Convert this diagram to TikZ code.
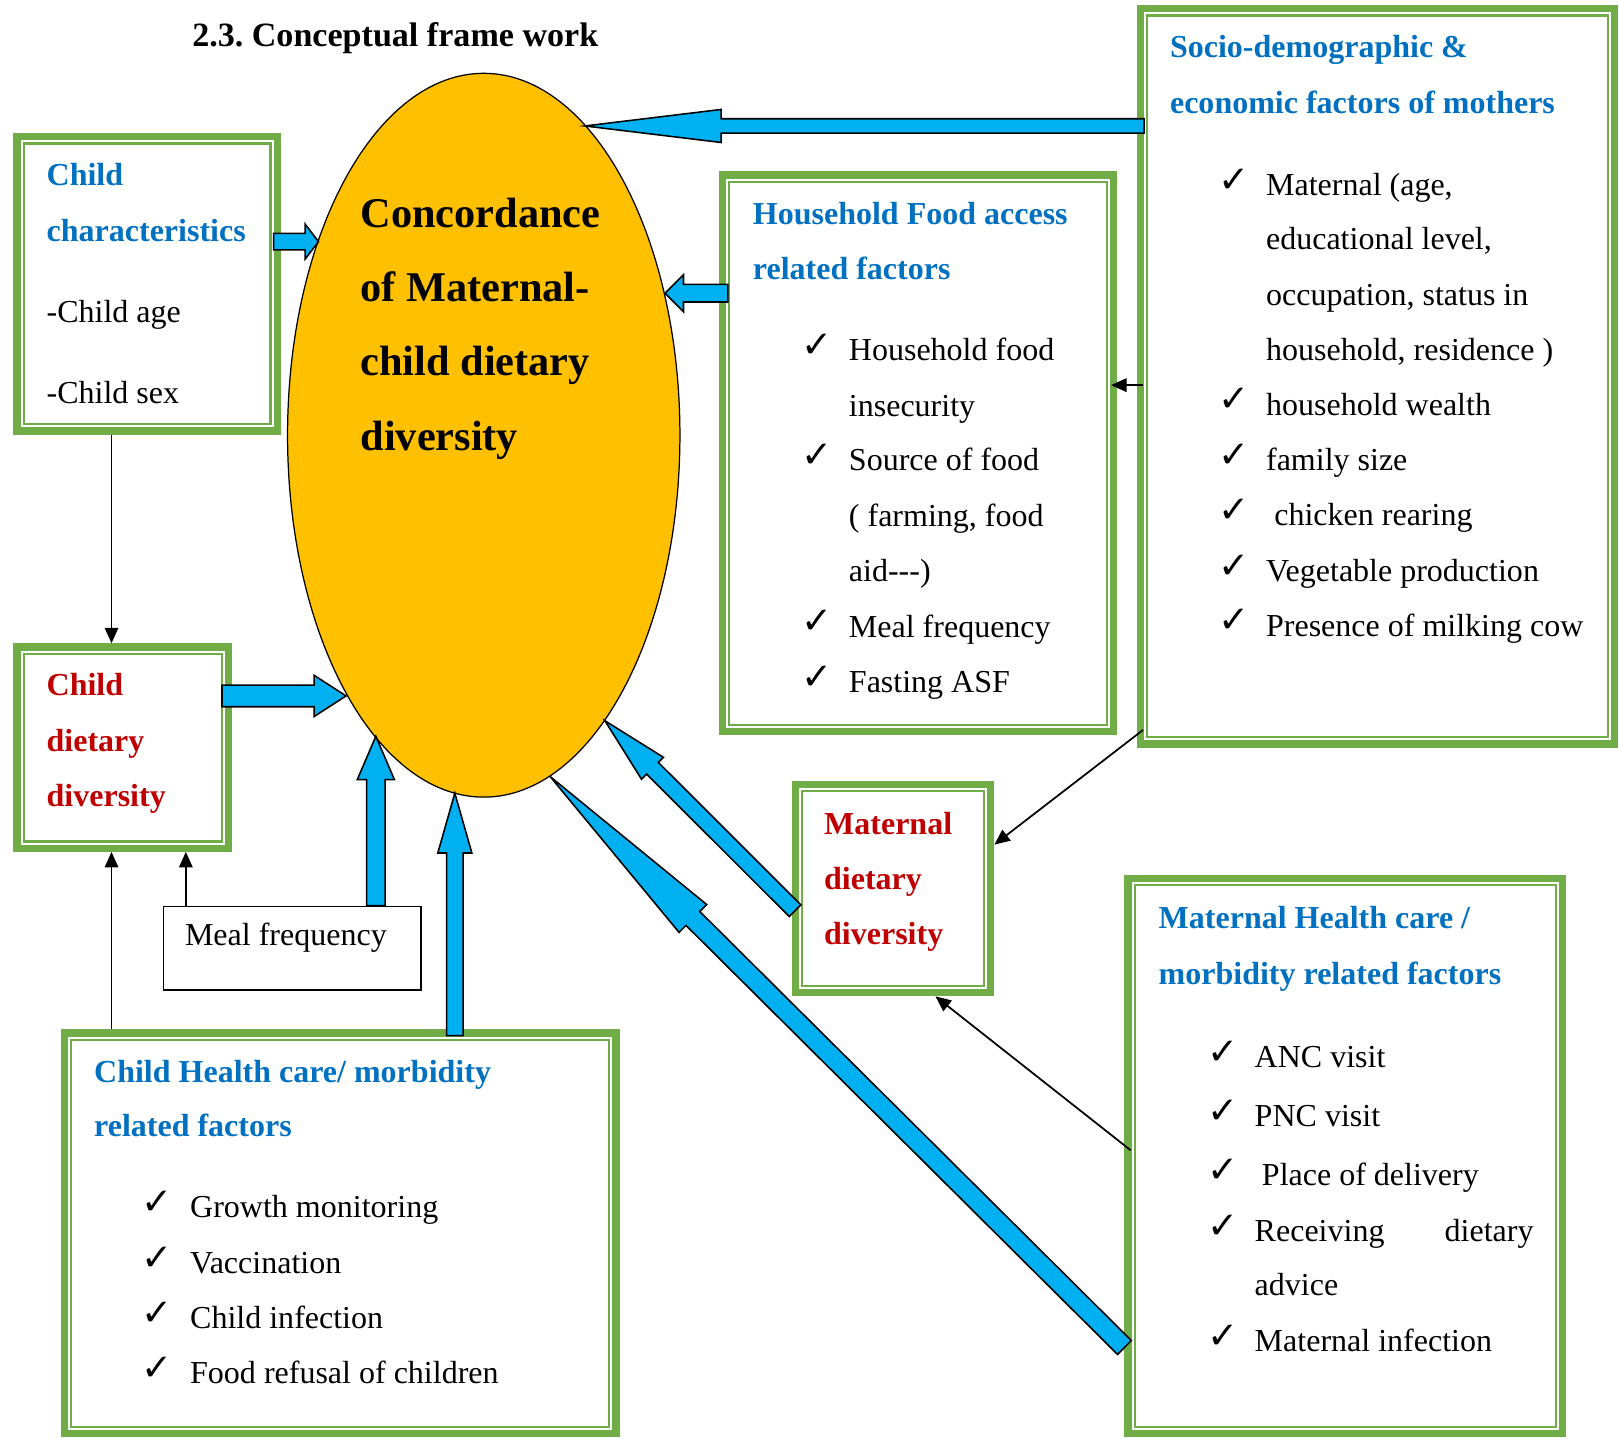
\documentclass[tikz,border=0pt]{standalone}
\usepackage{amssymb}
\usepackage{xcolor}
\usepackage{fontspec}
\setmainfont{Liberation Serif}
\newfontfamily\symfont{DejaVu Sans}
\usepackage{tikz}
\usetikzlibrary{calc,arrows.meta,shapes.geometric}

\definecolor{boxgreen}{RGB}{112,173,71}
\definecolor{headblue}{RGB}{0,112,192}
\definecolor{headred}{RGB}{192,0,0}
\definecolor{arrowblue}{RGB}{0,176,240}
\definecolor{ovalgold}{RGB}{255,192,0}

% block arrow: start, tip, shaft half width, head half width, head length
\newcommand{\fatarrow}[5]{%
  \coordinate (fab) at ($(#2)!#5!(#1)$);
  \draw[fat] ($(#1)!#3!90:(#2)$) -- ($(fab)!#3!-90:(#1)$) -- ($(fab)!#4!-90:(#1)$) -- (#2)
    -- ($(fab)!#4!90:(#1)$) -- ($(fab)!#3!90:(#1)$) -- ($(#1)!#3!-90:(#2)$) -- cycle;}

\begin{document}
\frenchspacing
\begin{tikzpicture}[x=1pt, y=-1pt,
% common options for the green framed boxes:
greenbox/.style = {draw=boxgreen, line width=7pt, fill=white, anchor=north west, inner sep=0pt},
% thin inner line of the frames:
innerline/.style = {draw=boxgreen, line width=2pt},
% common options for the text lines:
txt/.style = {anchor=base west, inner sep=0pt, font=\fontsize{31}{37}\selectfont},
head/.style = {txt, font=\fontsize{31}{37}\selectfont\bfseries, text=headblue},
redhead/.style = {head, text=headred},
chk/.style = {anchor=base west, inner sep=0pt, font=\fontsize{36}{40}\selectfont\symfont},
ovaltxt/.style = {anchor=base west, inner sep=0pt, font=\fontsize{41}{48}\selectfont\bfseries},
% arrows:
fat/.style = {draw=black, line width=1.5pt, fill=arrowblue, line join=miter},
thinarrow/.style = {draw=black, line width=1.7pt, -{Triangle[length=15pt,width=13pt]}}]
\useasboundingbox (0,0) rectangle (1568,1392);

\node[anchor=base west, inner sep=0pt, font=\fontsize{33}{40}\selectfont\bfseries] (title) at (186,45) {2.3. Conceptual frame work};

% central oval
\node[ellipse, draw, fill=ovalgold, line width=1.2pt, minimum width=380pt, minimum height=701pt, inner sep=0pt] (oval) at (468.5,421.5) {};

% boxes
\node[greenbox, minimum width=252pt, minimum height=285pt] (chr) at (13,129) {};
\node[greenbox, minimum width=205pt, minimum height=195pt] (cdd) at (13,623) {};
\node[greenbox, minimum width=379pt, minimum height=539pt] (hfa) at (696,166) {};
\node[greenbox, minimum width=459pt, minimum height=712pt] (sdm) at (1101,5) {};
\node[greenbox, minimum width=189pt, minimum height=202pt] (mdd) at (767,756) {};
\node[greenbox, minimum width=421pt, minimum height=538pt] (mhc) at (1089,847) {};
\node[greenbox, minimum width=534pt, minimum height=388pt] (chc) at (59,997) {};
\foreach \b in {chr,cdd,hfa,sdm,mdd,mhc,chc}
  \draw[innerline] ([xshift=10pt,yshift=-10pt]\b.north west) rectangle ([xshift=-10pt,yshift=10pt]\b.south east);
\node[draw, line width=1.3pt, anchor=north west, inner sep=0pt, minimum width=249pt, minimum height=81pt] (meal) at (158,877) {};

% block arrows into the oval
\coordinate (s1) at ($(sdm.west |- 0,122)+(7,0)$);
\coordinate (s2) at ($(hfa.west |- 0,284)+(9,0)$);
\coordinate (s3) at ($(chr.east |- 0,234)+(-7,0)$);
\coordinate (s4) at ($(cdd.east |- 0,674)+(-10,0)$);
\coordinate (s5) at (meal.north -| 364,0);
\coordinate (s6) at ($(chc.north -| 440.5,0)+(0,6)$);
\coordinate (s7) at ($(mdd.west |- 0,882)+(3,0)$);
\coordinate (s8) at (mhc.west |- 0,1305);
\fatarrow{s1}{oval.72.1 |- s1}{7pt}{16pt}{132pt}
\fatarrow{s2}{oval.38.9 |- s2}{8.5pt}{18pt}{18pt}
\fatarrow{s3}{oval.130.2 |- s3}{8pt}{17pt}{13pt}
\fatarrow{s4}{oval.242.3 |- s4}{10.5pt}{20pt}{31pt}
\fatarrow{s5}{s5 |- oval.250.5}{9pt}{18pt}{42pt}
\fatarrow{s6}{s6 |- oval.265.4}{8pt}{16.5pt}{58pt}
\fatarrow{s7}{oval.293}{8pt}{15pt}{65pt}
\fatarrow{s8}{oval.281.2}{9.5pt}{19pt}{195pt}

% thin arrows
\draw[thinarrow] (chr.south -| 108,0) -- (cdd.north -| 108,0);
\draw[thinarrow] (chc.north -| 108,0) -- (cdd.south -| 108,0);
\draw[thinarrow] (meal.north -| 180,0) -- (cdd.south -| 180,0);
\draw[thinarrow] ($(sdm.west |- 0,373)+(6,0)$) -- ($(hfa.east |- 0,373)+(-6,0)$);
\draw[thinarrow] ($(sdm.west |- 0,707)+(6,0)$) -- (mdd.east |- 0,818);
\draw[thinarrow] ($(mhc.west |- 0,1114)+(6,0)$) -- (mdd.south -| 906,0);

% oval text
\node[ovaltxt] (ov1) at (349,220) {Concordance};
\node[ovaltxt] (ov2) at (349,292) {of Maternal-};
\node[ovaltxt] (ov3) at (349,364) {child dietary};
\node[ovaltxt] (ov4) at (349,436) {diversity};

% child characteristics
\node[head] (chr1) at (45,180) {Child};
\node[head] (chr2) at (45,234) {characteristics};
\node[txt] (chr3) at (45,312) {-Child age};
\node[txt] (chr4) at (45,391) {-Child sex};

% child dietary diversity
\node[redhead] (cdd1) at (45,674) {Child};
\node[redhead] (cdd2) at (45,728) {dietary};
\node[redhead] (cdd3) at (45,781) {diversity};

\node[txt] (mealtxt) at (179,916) {Meal frequency};

% household food access
\node[head] (hfa1) at (729,217) {Household Food access};
\node[head] (hfa2) at (729,271) {related factors};
\foreach \y/\t in {349/{Household food}, 403/{insecurity}, 456/{Source of food},
  510/{( farming, food}, 563/{aid-{}-{}-)}, 617/{Meal frequency}, 671/{Fasting ASF}}
  \node[txt] (hfa-\y) at (822,\y) {\t};
\foreach \y in {349,456,617,671}
  \node[chk] (hfachk-\y) at (776,\y-3) {✓};

% socio-demographic
\node[head] (sdm1) at (1133,56) {Socio-demographic \&};
\node[head] (sdm2) at (1133,110) {economic factors of mothers};
\foreach \y/\t in {189/{Maternal (age,}, 242/{educational level,}, 296/{occupation, status in},
  349/{household, residence )}, 402/{household wealth}, 456/{family size},
  563/{Vegetable production}, 616/{Presence of milking cow}}
  \node[txt] (sdm-\y) at (1226,\y) {\t};
\node[txt] (sdm-509) at (1234,509) {chicken rearing};
\foreach \y in {189,402,456,509,563,616}
  \node[chk] (sdmchk-\y) at (1180,\y-3) {✓};

% maternal dietary diversity
\node[redhead] (mdd1) at (798,808) {Maternal};
\node[redhead] (mdd2) at (798,861) {dietary};
\node[redhead] (mdd3) at (798,915) {diversity};

% maternal health care
\node[head] (mhc1) at (1122,899) {Maternal Health care /};
\node[head] (mhc2) at (1122,953) {morbidity related factors};
\foreach \y/\t in {1034/{ANC visit}, 1091/{PNC visit}, 1202/{\makebox[270pt][l]{Receiving\hfill dietary}},
  1255/{advice}, 1309/{Maternal infection}}
  \node[txt] (mhc-\y) at (1215,\y) {\t};
\node[txt] (mhc-1148) at (1222,1148) {Place of delivery};
\foreach \y in {1034,1091,1148,1202,1309}
  \node[chk] (mhcchk-\y) at (1169,\y-3) {✓};

% child health care
\node[head] (chc1) at (91,1048) {Child Health care/ morbidity};
\node[head] (chc2) at (91,1101) {related factors};
\foreach \y/\t in {1179/{Growth monitoring}, 1233/{Vaccination}, 1287/{Child infection}, 1340/{Food refusal of children}}
  \node[txt] (chc-\y) at (184,\y) {\t};
\foreach \y in {1179,1233,1287,1340}
  \node[chk] (chcchk-\y) at (137,\y-3) {✓};
\end{tikzpicture}
\end{document}
